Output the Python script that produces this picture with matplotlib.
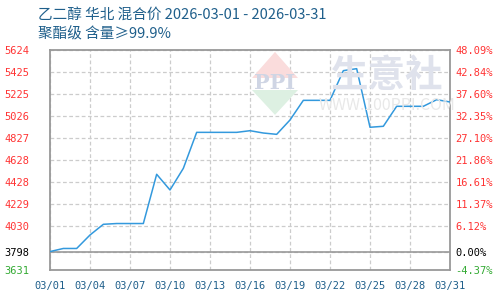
import matplotlib
matplotlib.use('Agg')
import matplotlib.pyplot as plt
from matplotlib.patches import Polygon

plt.rcParams['font.family'] = ['Noto Sans CJK SC', 'DejaVu Sans']

# 乙二醇 华北 混合价, 2026-03
days = list(range(1, 32))
prices = [3798, 3826, 3826, 3948, 4045, 4052, 4052, 4052, 4498, 4356,
          4552, 4878, 4878, 4878, 4878, 4893, 4872, 4860, 4990, 5168,
          5168, 5168, 5437, 5455, 4924, 4933, 5114, 5114, 5114, 5174, 5153]
base = 3798
y_ticks = [3631, 3798, 4030, 4229, 4428, 4628, 4827, 5026, 5225, 5425, 5624]
pct_labels = ['-4.37%', '0.00%', '6.12%', '11.37%', '16.61%', '21.86%',
              '27.10%', '32.35%', '37.60%', '42.84%', '48.09%']
x_ticks = [1, 4, 7, 10, 13, 16, 19, 22, 25, 28, 31]
x_labels = ['03/01', '03/04', '03/07', '03/10', '03/13', '03/16',
            '03/19', '03/22', '03/25', '03/28', '03/31']

title_col = '#1f5f8b'
red = '#ff3333'
green = '#33aa33'

fig = plt.figure(figsize=(5, 3), dpi=100)
ax = fig.add_axes([0.1, 0.1, 0.8, 0.7333])

# watermark (logo + site name)
fig.patches.append(Polygon([[0.55, 0.827], [0.504, 0.74], [0.596, 0.74]],
                           closed=True, transform=fig.transFigure,
                           facecolor='#fadcdc', edgecolor='none', zorder=0))
fig.patches.append(Polygon([[0.504, 0.70], [0.596, 0.70], [0.55, 0.617]],
                           closed=True, transform=fig.transFigure,
                           facecolor='#ddf0e2', edgecolor='none', zorder=0))
ax.patch.set_alpha(0)
fig.text(0.55, 0.722, 'PPI', fontsize=15, fontweight='bold', color='#cfd5e4',
         family='DejaVu Serif', ha='center', va='center', zorder=1)
fig.text(0.775, 0.75, '生意社', fontsize=27, fontweight='bold', color='#dfe2ec',
         ha='center', va='center', zorder=1)
fig.text(0.775, 0.647, 'WWW.100PPI.COM', fontsize=11.5, color='#e8e8e8',
         ha='center', va='center', zorder=1)

ax.plot(days, prices, color='#3399dd', linewidth=1.1, zorder=3)

ax.set_xlim(1, 31)
ax.set_ylim(y_ticks[0], y_ticks[-1])
ax.set_xticks(x_ticks)
ax.set_xticklabels(x_labels)
ax.set_yticks(y_ticks)
ax.set_yticklabels([str(v) for v in y_ticks])

ax.grid(True, linestyle=(0, (3, 2)), color='#cccccc', linewidth=0.9)
ax.axhline(base, color='#999999', linewidth=1.2, zorder=2)
for s in ax.spines.values():
    s.set_color('#999999')
    s.set_linewidth(1.3)

ax.tick_params(axis='y', length=0, labelsize=7.5, pad=15)
ax.tick_params(axis='x', length=0, labelsize=7.5, pad=8)
for lab in ax.get_xticklabels():
    lab.set_color(title_col)
    lab.set_family('DejaVu Sans Mono')
for v, lab in zip(y_ticks, ax.get_yticklabels()):
    lab.set_family('DejaVu Sans Mono')
    lab.set_color(green if v < base else ('black' if v == base else red))

ax2 = ax.twinx()
ax2.set_ylim(ax.get_ylim())
ax2.set_yticks(y_ticks)
ax2.set_yticklabels(pct_labels)
ax2.tick_params(length=0, labelsize=7.5, pad=4)
for s in ax2.spines.values():
    s.set_visible(False)
for v, lab in zip(y_ticks, ax2.get_yticklabels()):
    lab.set_family('DejaVu Sans Mono')
    lab.set_color(green if v < base else ('black' if v == base else red))

fig.text(0.076, 0.95, '乙二醇 华北 混合价 2026-03-01 - 2026-03-31',
         fontsize=10.5, color=title_col, va='center')
fig.text(0.076, 0.885, '聚酯级 含量≥99.9%', fontsize=10.5, color=title_col, va='center')

fig.savefig('out.png', dpi=100)
